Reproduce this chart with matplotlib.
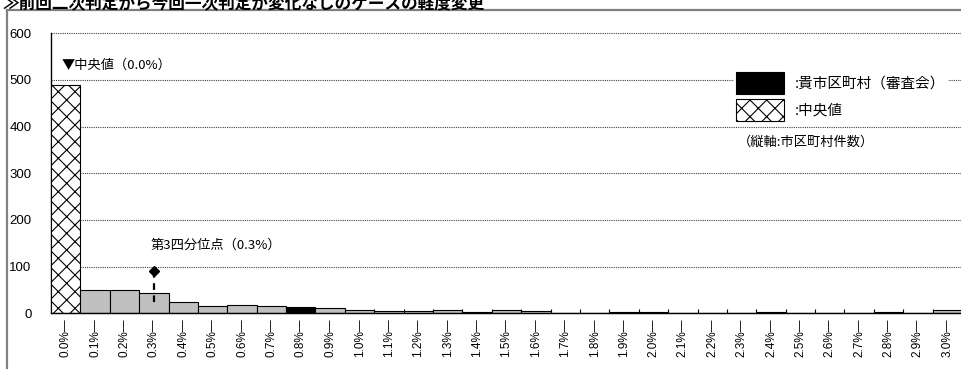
import numpy as np
import matplotlib
matplotlib.use("Agg")
import matplotlib.pyplot as plt
from matplotlib.patches import Patch
from matplotlib.lines import Line2D

plt.rcParams['font.family'] = ['Noto Sans CJK JP', 'DejaVu Sans']
plt.rcParams['hatch.linewidth'] = 0.8

# ---- data ----
categories = [f"{i/10:.1f}%" for i in range(31)]
counts = [490, 50, 50, 44, 25, 15, 18, 16, 14, 12,
          8, 4, 4, 8, 3, 8, 6, 0, 0, 2,
          2, 1, 0, 0, 2, 1, 0, 0, 2, 1, 8]
median_index = 0
own_index = 8
q3_index = 3
q3_marker_value = 91
q3_line_bottom = 15
title = "≫前回二次判定から今回一次判定が変化なしのケースの軽度変更"
median_label = "▼中央値（0.0%）"
q3_label = "第3四分位点（0.3%）"
legend_labels = [":貴市区町村（審査会）", ":中央値"]
axis_note = "（縦軸:市区町村件数）"
yticks = [0, 100, 200, 300, 400, 500, 600]

W, H = 962, 369
fig = plt.figure(figsize=(W / 100, H / 100), dpi=100)
left_px, right_px, top_px, bottom_px = 51, 962, 33.3, 313.3
ax = fig.add_axes([left_px / W, 1 - bottom_px / H,
                   (right_px - left_px) / W, (bottom_px - top_px) / H])

x = np.arange(len(categories))
facecolors = ['#c0c0c0'] * len(categories)
facecolors[own_index] = 'black'
facecolors[median_index] = 'white'
hatches = [''] * len(categories)
hatches[median_index] = 'xx'
bars = ax.bar(x, counts, width=1.0, color=facecolors, edgecolor='black',
              linewidth=0.8, zorder=3)
for b, h in zip(bars, hatches):
    b.set_hatch(h)

ax.set_xlim(-0.5, len(categories) - 0.5)
ax.set_ylim(0, 600)
ax.set_yticks(yticks)
ax.set_yticklabels([str(v) for v in yticks], family=['Liberation Sans'], fontsize=9.5)
ax.set_xticks(x)
ax.set_xticklabels([c + "—" for c in categories], rotation=90, fontsize=8.5,
                   family=['Liberation Sans'], va='top')
ax.set_xticks(x + 0.5, minor=True)
ax.tick_params(axis='x', which='major', length=0, pad=4)
ax.tick_params(axis='x', which='minor', direction='in', length=3, width=0.8, color='black')
ax.tick_params(axis='y', length=0, pad=14)

for s in ['top', 'right']:
    ax.spines[s].set_visible(False)
ax.spines['left'].set_color('black')
ax.spines['bottom'].set_color('black')
ax.spines['left'].set_linewidth(1.0)
ax.spines['bottom'].set_linewidth(1.0)
ax.spines['bottom'].set_zorder(4)

ax.yaxis.grid(True, linestyle=(0, (1, 1)), color='#404040', linewidth=0.8, zorder=1)
ax.set_axisbelow(True)
for gl in ax.yaxis.get_gridlines():
    gl.set_clip_on(False)

# third quartile marker
ax.plot([q3_index, q3_index], [q3_marker_value, q3_line_bottom], color='black',
        linestyle=(0, (3, 2.5)), linewidth=1.6, zorder=5)
ax.plot([q3_index], [q3_marker_value], marker='D', color='black', markersize=5.5, zorder=6)
ax.text(q3_index - 0.12, 146, q3_label, fontsize=9.5, ha='left', va='center')
ax.text(median_index - 0.13, 532, median_label, fontsize=9.5, ha='left', va='center')

# legend
handles = [Patch(facecolor='black', edgecolor='black', linewidth=0.8),
           Patch(facecolor='white', edgecolor='black', hatch='xx', linewidth=0.8)]
leg = ax.legend(handles, legend_labels, loc='upper left',
                bbox_to_anchor=(734 / W, 1 - 70 / H), bbox_transform=fig.transFigure,
                fontsize=10.5, handlelength=3.3, handleheight=1.95, handletextpad=0.75,
                labelspacing=0.3, borderpad=0.15, borderaxespad=0, frameon=True,
                fancybox=False, framealpha=1.0, edgecolor='none', facecolor='white')
leg.set_zorder(7)
fig.text(738 / W, 1 - 142 / H, axis_note, fontsize=9.5, ha='left', va='center')

# title (top cut off like the reference) and outer border
fig.text(2 / W, 1 - 9 / H, title, fontsize=12, weight='bold', ha='left', va='baseline')
fig.add_artist(Line2D([7 / W, 7 / W], [0, 1 - 10 / H], transform=fig.transFigure,
                      color='#808080', linewidth=1.6))
fig.add_artist(Line2D([7 / W, 1], [1 - 10 / H, 1 - 10 / H], transform=fig.transFigure,
                      color='#808080', linewidth=1.6))

fig.savefig("out.png", dpi=100)
